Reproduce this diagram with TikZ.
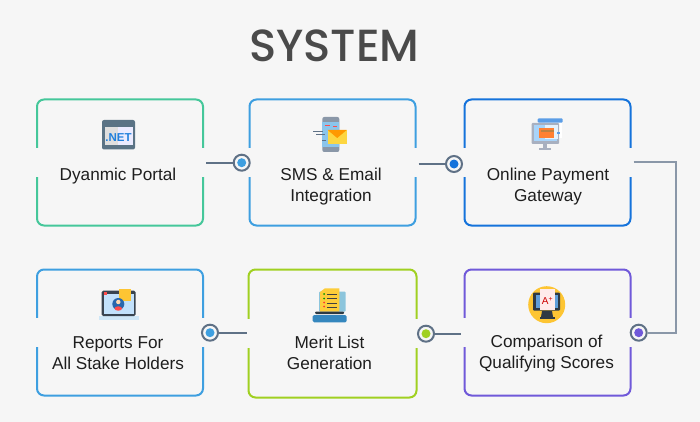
\documentclass[tikz,border=0pt]{standalone}
\usepackage{fontspec}
\setmainfont{Liberation Sans}
\newfontfamily\titlefont{Poppins Medium}
\definecolor{bgcol}{HTML}{F6F6F6}
\definecolor{inkcol}{HTML}{1E1E1E}
\definecolor{titlecol}{HTML}{4A4A4A}
\definecolor{ringcol}{HTML}{5F7186}
\definecolor{wirecol}{HTML}{8A97A8}
\definecolor{greencol}{HTML}{45C79A}
\definecolor{skycol}{HTML}{3E9FE0}
\definecolor{bluecol}{HTML}{1573DB}
\definecolor{limecol}{HTML}{A0D021}
\definecolor{violetcol}{HTML}{7059D9}
\definecolor{sunnycol}{HTML}{FDD640}
\definecolor{slatecol}{HTML}{5A7385}
\definecolor{panelcol}{HTML}{8CC5DC}
\definecolor{paleblue}{HTML}{A8D4FA}
\definecolor{steelcol}{HTML}{A8B0C0}
\tikzset{
    card/.style={draw=#1, line width=2pt, rounded corners=7pt, minimum width=166pt, minimum height=126pt, inner sep=0pt},
    gapmark/.style={fill=bgcol, minimum width=5pt, minimum height=29pt, inner sep=0pt},
    ring/.style={circle, draw=ringcol, fill=bgcol, line width=2pt, minimum size=16pt, inner sep=0pt},
    pip/.style={circle, fill=#1, minimum size=9pt, inner sep=0pt},
    label/.style={text=inkcol, font=\fontsize{17.2}{21}\selectfont, align=center, inner sep=0pt},
    wire/.style={draw=ringcol, line width=2pt},
}
\begin{document}
\begin{tikzpicture}[x=1pt, y=-1pt]
        \fill [bgcol] (0,0) rectangle (700,422);
        \useasboundingbox (0,0) rectangle (700,422);

        \node [text=titlecol, font=\fontsize{45}{45}\titlefont, inner sep=0pt] (title) at (334.5,45.5) {SYSTEM};

        \node [card=greencol] (portal) at (120,162.5) {};
        \node [card=skycol] (sms) at (332.5,162.5) {};
        \node [card=bluecol] (gateway) at (547.5,162.5) {};
        \node [card=skycol] (reports) at (120,332.5) {};
        \node [card=limecol, minimum width=168pt, minimum height=128pt] (merit) at (332.5,333.5) {};
        \node [card=violetcol] (scores) at (547.5,332.5) {};

        \node [gapmark] (portalW) at (portal.west) {};
        \node [gapmark] (portalE) at (portal.east) {};
        \node [gapmark] (smsW) at (sms.west) {};
        \node [gapmark] (smsE) at (sms.east) {};
        \node [gapmark] (gatewayW) at (gateway.west) {};
        \node [gapmark] (gatewayE) at (gateway.east) {};
        \node [gapmark] (reportsW) at (reports.west) {};
        \node [gapmark] (reportsE) at (reports.east) {};
        \node [gapmark] (meritW) at (merit.west) {};
        \node [gapmark] (meritE) at (merit.east) {};
        \node [gapmark] (scoresW) at (scores.west) {};
        \node [gapmark] (scoresE) at (scores.east) {};

        \node [ring] (ringA) at (241.7,162.7) {};
        \node [ring] (ringB) at (454,164) {};
        \node [ring] (ringC) at (638.7,332.7) {};
        \node [ring] (ringD) at (426,333.7) {};
        \node [ring] (ringE) at (210,332.7) {};
        \node [pip=skycol] (pipA) at (ringA) {};
        \node [pip=bluecol] (pipB) at (ringB) {};
        \node [pip=violetcol] (pipC) at (ringC) {};
        \node [pip=limecol] (pipD) at (ringD) {};
        \node [pip=skycol] (pipE) at (ringE) {};

        \coordinate (bend) at (676,162);
        \draw [wire, shorten <=2pt] (portal.east |- ringA) -- (ringA);
        \draw [wire, shorten <=2pt] (sms.east |- ringB) -- (ringB);
        \draw [wire, draw=wirecol, shorten <=2pt] (gateway.east |- bend) -- (bend) |- (ringC);
        \draw [wire, shorten <=3pt] (scores.west |- ringD) -- (ringD);
        \draw [wire, shorten <=1pt] (merit.west |- ringE) -- (ringE);

        \node [label] (portalText) at (118,176.5) {Dyanmic Portal};
        \node [label] (smsText) at (331,187) {SMS \& Email\\Integration};
        \node [label] (gatewayText) at (548,187) {Online Payment\\Gateway};
        \node [label] (reportsText) at (118,353.5) {Reports For\\All Stake Holders};
        \node [label] (meritText) at (329.5,353) {Merit List\\Generation};
        \node [label] (scoresText) at (546.5,353.5) {Comparison of\\Qualifying Scores};

        % .NET window
        \fill [slatecol, rounded corners=2pt] (102,120) rectangle (135,149.5);
        \fill [gray!25!white] (105,127) rectangle (118,145);
        \fill [white!92!blue] (118,127) rectangle (133,145);
        \node [text=bluecol!70!skycol, font=\fontsize{11.5}{12}\bfseries\selectfont, inner sep=0pt] (netText) at (118.5,138) {.NET};

        % phone with envelope
        \fill [wirecol, rounded corners=2pt] (322.3,117) rectangle (339.3,152);
        \fill [skycol!60!white] (322.3,122) rectangle (339.3,147);
        \draw [ringcol, line width=0.8pt] (313,131.5) -- (323,131.5) (316,134.5) -- (325,134.5) (326,140) -- (322,140);
        \draw [red!70!white, line width=0.8pt] (325,125.5) -- (330,125.5) (333,126) -- (337,126);
        \fill [sunnycol] (327.7,130) rectangle (346.7,144);
        \fill [orange!80!yellow] (327.7,130) -- (346.7,130) -- (337.2,138) -- cycle;

        % monitor with card
        \fill [white] (545,122) rectangle (562,138);
        \fill [steelcol, rounded corners=1pt] (531.7,123) rectangle (559,144);
        \fill [paleblue] (534,125) rectangle (556.5,141.5);
        \fill [steelcol] (543,144) rectangle (547,148);
        \fill [steelcol] (539,148) rectangle (551,150.5);
        \fill [white!70!paleblue] (545,125) rectangle (558,139);
        \fill [bluecol!70!white, rounded corners=1pt] (537.7,118.3) rectangle (562.7,122.7);
        \fill [orange!75!red!80!white] (539.3,128) rectangle (554,138);
        \fill [brown] (541,130.5) rectangle (554,132);
        \fill [bluecol!70!white] (556.5,132) rectangle (560,134);

        % tablet with person
        \fill [skycol!25!white] (99,316) rectangle (139,320);
        \fill [ringcol!60!black, rounded corners=1.5pt] (101.7,290.7) rectangle (135.7,316);
        \fill [paleblue!70!white] (104,294) rectangle (133.5,313.7);
        \fill [red!70!white] (104,292) rectangle (107,294.5);
        \fill [sunnycol!80!orange] (119,289) rectangle (131,300.7);
        \fill [bluecol!75!black!90!white] (118.3,304) circle (6);
        \fill [orange!30!white] (118.3,302) circle (2.2);
        \fill [red!70!white] (118.3,308.5) ellipse (3.8 and 2.2);

        % merit list on laptop
        \fill [panelcol, rounded corners=1pt] (319,291.7) rectangle (345.7,311.7);
        \fill [sunnycol!90!orange] (320,292) -- (325,288.3) -- (339.3,288.3) -- (339.3,311.7) -- (320,311.7) -- cycle;
        \draw [black!75, line width=0.8pt] (327,294) -- (337,294) (327,298.5) -- (337,298.5) (327,303) -- (337,303) (327,307) -- (337,307);
        \fill [green!60!black] (324,294) circle (1);
        \fill [green!60!black] (324,298.5) circle (1);
        \fill [red!80!white] (324,302.5) circle (1);
        \fill [red!80!white] (324,306.5) circle (1);
        \fill [slatecol!50!black, rounded corners=1pt] (315,311.5) rectangle (344,314);
        \fill [skycol!85!black, rounded corners=1.5pt] (312.7,315) rectangle (346.7,322.3);

        % monitor with grade
        \fill [sunnycol!80!orange] (546.7,304.7) circle (18.5);
        \fill [ringcol!50!black, rounded corners=1pt] (533,292.7) rectangle (560,310.7);
        \fill [cyan!60!blue!65!white] (535.5,295) rectangle (557.5,308);
        \fill [white!92!red] (540,289.3) rectangle (555,310);
        \node [text=red!80!black, font=\fontsize{10}{10}\selectfont, inner sep=0pt] (gradeText) at (547.5,301) {A\textsuperscript{+}};
        \fill [ringcol!50!black] (542,311) -- (552,311) -- (553,317) -- (541,317) -- cycle;
        \fill [ringcol!50!black] (540,317) rectangle (554.5,319);
\end{tikzpicture}
\end{document}
